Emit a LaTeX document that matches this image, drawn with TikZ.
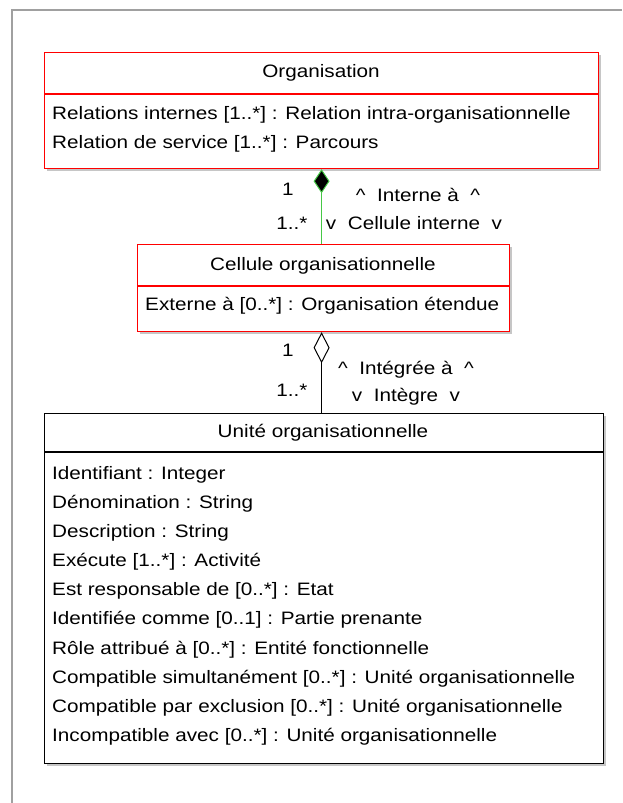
\documentclass[tikz,border=0pt]{standalone}
\usepackage{fontspec}
\setmainfont[FakeStretch=1.15]{Liberation Sans}
\usetikzlibrary{arrows.meta,shadows}

\definecolor{umlred}{RGB}{255,0,0}
\definecolor{framegray}{RGB}{160,160,160}
\definecolor{linkgreen}{RGB}{70,200,70}

\tikzset{
  classbox/.style={draw=#1, line width=1.2pt, fill=white, anchor=north west, inner sep=0pt,
    drop shadow={shadow xshift=2pt, shadow yshift=-2pt, opacity=.45, fill=gray}},
  attr/.style={anchor=west, inner sep=0pt, text height=12.9pt, text depth=0pt},
  ctitle/.style={attr, anchor=center},
  mult/.style={attr, anchor=center},
}

\begin{document}
\begin{tikzpicture}[x=1pt, y=-1pt, font=\fontsize{18pt}{21pt}\selectfont]
  \useasboundingbox (0,0) rectangle (622,803);
  % frame
  \draw[framegray, line width=1.3pt] (12,803) -- (12,10) -- (622,10);

  % Organisation
  \node[classbox=umlred, minimum width=554pt, minimum height=116pt] (org) at (44,52) {};
  \draw[umlred, line width=1.2pt] (org.west |- 0,94) -- (org.east |- 0,94);
  \node[ctitle] (orgname) at (321,71) {Organisation};
  \node[attr] (orga1) at (52,113) {Relations internes [1..*] : Relation intra-organisationnelle};
  \node[attr] (orga2) at (52,142) {Relation de service [1..*] : Parcours};

  % Cellule organisationnelle
  \node[classbox=umlred, minimum width=372pt, minimum height=87pt] (cell) at (137,244) {};
  \draw[umlred, line width=1.2pt] (cell.west |- 0,286) -- (cell.east |- 0,286);
  \node[ctitle] (cellname) at (323,264) {Cellule organisationnelle};
  \node[attr] (cella1) at (145,304) {Externe à [0..*] : Organisation étendue};

  % Unite organisationnelle
  \node[classbox=black, minimum width=559pt, minimum height=350pt] (unit) at (44,413) {};
  \draw[black, line width=1.2pt] (unit.west |- 0,452) -- (unit.east |- 0,452);
  \node[ctitle] (unitname) at (323,431) {Unité organisationnelle};
  \foreach \txt [count=\i from 0] in {Identifiant : Integer, Dénomination : String,
      Description : String, Exécute [1..*] : Activité, Est responsable de [0..*] : Etat,
      Identifiée comme [0..1] : Partie prenante, Rôle attribué à [0..*] : Entité fonctionnelle,
      Compatible simultanément [0..*] : Unité organisationnelle,
      Compatible par exclusion [0..*] : Unité organisationnelle,
      Incompatible avec [0..*] : Unité organisationnelle}
    \node[attr] (unita\i) at (52,473+29.1*\i) {\txt};

  % composition
  \draw[linkgreen, line width=1pt, {Diamond[length=24pt, width=16pt, fill=black]}-]
    (org.south) -- (org.south |- cell.north);
  \node[mult] (m1) at (288,189) {1};
  \node[mult] (m2) at (292,223) {1..*};
  \node[mult] (r1) at (418,195) {\textasciicircum\ \ Interne à\ \ \textasciicircum};
  \node[mult] (r2) at (414,223) {v\ \ Cellule interne\ \ v};

  % aggregation
  \draw[black, line width=1pt, {Diamond[open, length=31pt, width=16pt]}-]
    (cell.south -| org.south) -- (unit.north -| org.south);
  \node[mult] (m3) at (288,350) {1};
  \node[mult] (m4) at (292,390) {1..*};
  \node[mult] (r3) at (406,368) {\textasciicircum\ \ Intégrée à\ \ \textasciicircum};
  \node[mult] (r4) at (406,395) {v\ \ Intègre\ \ v};
\end{tikzpicture}
\end{document}
